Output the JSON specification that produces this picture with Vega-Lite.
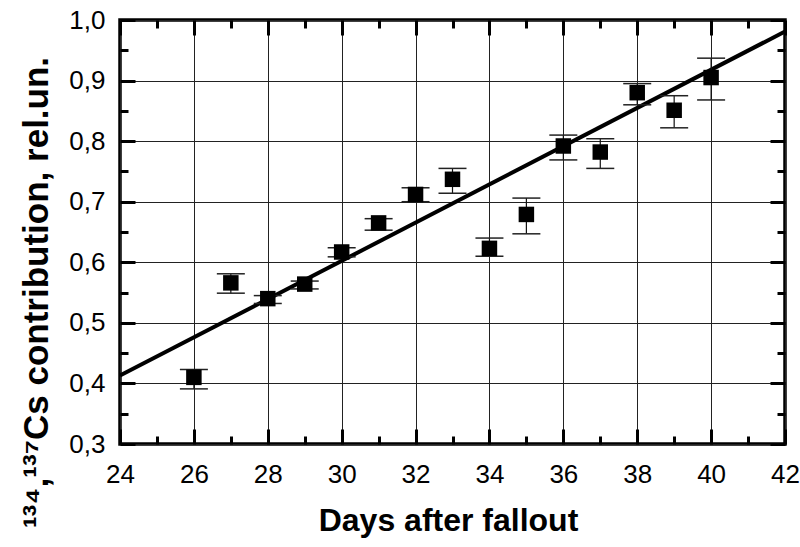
{
  "$schema": "https://vega.github.io/schema/vega-lite/v6.json",
  "width": 665,
  "height": 424,
  "autosize": {"type": "none"},
  "padding": {"left": 120, "top": 20, "right": 15, "bottom": 103},
  "background": "white",
  "config": {
    "view": {"stroke": "black", "strokeWidth": 3.5},
    "axis": {
      "domain": false,
      "tickColor": "black",
      "tickWidth": 3,
      "tickCap": "butt",
      "gridColor": "#222222",
      "gridWidth": 1,
      "labelFont": "Liberation Sans",
      "labelFontSize": 26,
      "labelColor": "black",
      "labelFlush": false,
      "labelOverlap": false,
      "labelBound": false,
      "titleFont": "Liberation Sans",
      "titleFontWeight": "bold",
      "titleColor": "black"
    }
  },
  "datasets": {
    "fit": [
      {"day": 24, "fit": 0.413},
      {"day": 42, "fit": 0.981}
    ],
    "points": [
      {"day": 26, "val": 0.410, "lo": 0.391, "hi": 0.423},
      {"day": 27, "val": 0.566, "lo": 0.549, "hi": 0.581},
      {"day": 28, "val": 0.540, "lo": 0.532, "hi": 0.545},
      {"day": 29, "val": 0.564, "lo": 0.556, "hi": 0.569},
      {"day": 30, "val": 0.617, "lo": 0.609, "hi": 0.624},
      {"day": 31, "val": 0.665, "lo": 0.653, "hi": 0.672},
      {"day": 32, "val": 0.712, "lo": 0.700, "hi": 0.723},
      {"day": 33, "val": 0.737, "lo": 0.714, "hi": 0.755},
      {"day": 34, "val": 0.623, "lo": 0.610, "hi": 0.640},
      {"day": 35, "val": 0.679, "lo": 0.647, "hi": 0.706},
      {"day": 36, "val": 0.792, "lo": 0.769, "hi": 0.810},
      {"day": 37, "val": 0.782, "lo": 0.755, "hi": 0.804},
      {"day": 38, "val": 0.880, "lo": 0.860, "hi": 0.895},
      {"day": 39, "val": 0.851, "lo": 0.822, "hi": 0.875},
      {"day": 40, "val": 0.905, "lo": 0.868, "hi": 0.937}
    ]
  },
  "layer": [
    {
      "data": {"name": "fit"},
      "mark": {"type": "line", "color": "black", "strokeWidth": 4, "strokeCap": "butt"},
      "encoding": {
        "x": {
          "field": "day", "type": "quantitative",
          "scale": {"domain": [24, 42], "nice": false, "zero": false},
          "axis": {
            "orient": "bottom",
            "values": [24, 25, 26, 27, 28, 29, 30, 31, 32, 33, 34, 35, 36, 37, 38, 39, 40, 41, 42],
            "grid": true,
            "gridOpacity": {"condition": {"test": "datum.value % 2 === 0", "value": 1}, "value": 0},
            "tickSize": {"condition": {"test": "datum.value % 2 === 0", "value": -15}, "value": -8},
            "labelExpr": "datum.value % 2 === 0 ? datum.label : ''",
            "labelPadding": 32,
            "title": "Days after fallout",
            "titleFontSize": 32,
            "titleBaseline": "alphabetic",
            "titleAlign": "center",
            "titleX": 328,
            "titleY": 86
          }
        },
        "y": {
          "field": "fit", "type": "quantitative",
          "scale": {"domain": [0.3, 1.0], "nice": false, "zero": false},
          "axis": {
            "orient": "left",
            "values": [0.3, 0.35, 0.4, 0.45, 0.5, 0.55, 0.6, 0.65, 0.7, 0.75, 0.8, 0.85, 0.9, 0.95, 1.0],
            "grid": true,
            "gridOpacity": {"condition": {"test": "abs(datum.value*10 - round(datum.value*10)) < 0.001", "value": 1}, "value": 0},
            "tickSize": {"condition": {"test": "abs(datum.value*10 - round(datum.value*10)) < 0.001", "value": -15}, "value": -8},
            "labelExpr": "abs(datum.value*10 - round(datum.value*10)) < 0.001 ? replace(format(datum.value, '.1f'), '.', ',') : ''",
            "labelPadding": 30,
            "title": "¹³⁴,¹³⁷Cs contribution, rel.un.",
            "titleFontSize": 35,
            "titleAngle": -90,
            "titleBaseline": "alphabetic",
            "titleAlign": "center",
            "titleX": -73,
            "titleY": 272
          }
        }
      }
    },
    {
      "data": {"name": "points"},
      "mark": {"type": "rule", "color": "#111111", "strokeWidth": 1.2},
      "encoding": {
        "x": {
          "field": "day", "type": "quantitative",
          "axis": {
            "orient": "top",
            "values": [24, 25, 26, 27, 28, 29, 30, 31, 32, 33, 34, 35, 36, 37, 38, 39, 40, 41, 42],
            "grid": false,
            "labels": false,
            "title": null,
            "tickSize": {"condition": {"test": "datum.value % 2 === 0", "value": -15}, "value": -8}
          }
        },
        "y": {
          "field": "lo", "type": "quantitative",
          "axis": {
            "orient": "right",
            "values": [0.3, 0.35, 0.4, 0.45, 0.5, 0.55, 0.6, 0.65, 0.7, 0.75, 0.8, 0.85, 0.9, 0.95, 1.0],
            "grid": false,
            "labels": false,
            "title": null,
            "tickSize": {"condition": {"test": "abs(datum.value*10 - round(datum.value*10)) < 0.001", "value": -15}, "value": -8}
          }
        },
        "y2": {"field": "hi"}
      }
    },
    {
      "data": {"name": "points"},
      "mark": {"type": "tick", "orient": "horizontal", "size": 28, "thickness": 1.5, "color": "#222222", "opacity": 1},
      "encoding": {
        "x": {"field": "day", "type": "quantitative", "axis": null},
        "y": {"field": "lo", "type": "quantitative", "axis": null}
      }
    },
    {
      "data": {"name": "points"},
      "mark": {"type": "tick", "orient": "horizontal", "size": 28, "thickness": 1.5, "color": "#222222", "opacity": 1},
      "encoding": {
        "x": {"field": "day", "type": "quantitative", "axis": null},
        "y": {"field": "hi", "type": "quantitative", "axis": null}
      }
    },
    {
      "data": {"name": "points"},
      "mark": {"type": "point", "shape": "square", "filled": true, "size": 240, "color": "black", "opacity": 1},
      "encoding": {
        "x": {"field": "day", "type": "quantitative", "axis": null},
        "y": {"field": "val", "type": "quantitative", "axis": null}
      }
    }
  ]
}
